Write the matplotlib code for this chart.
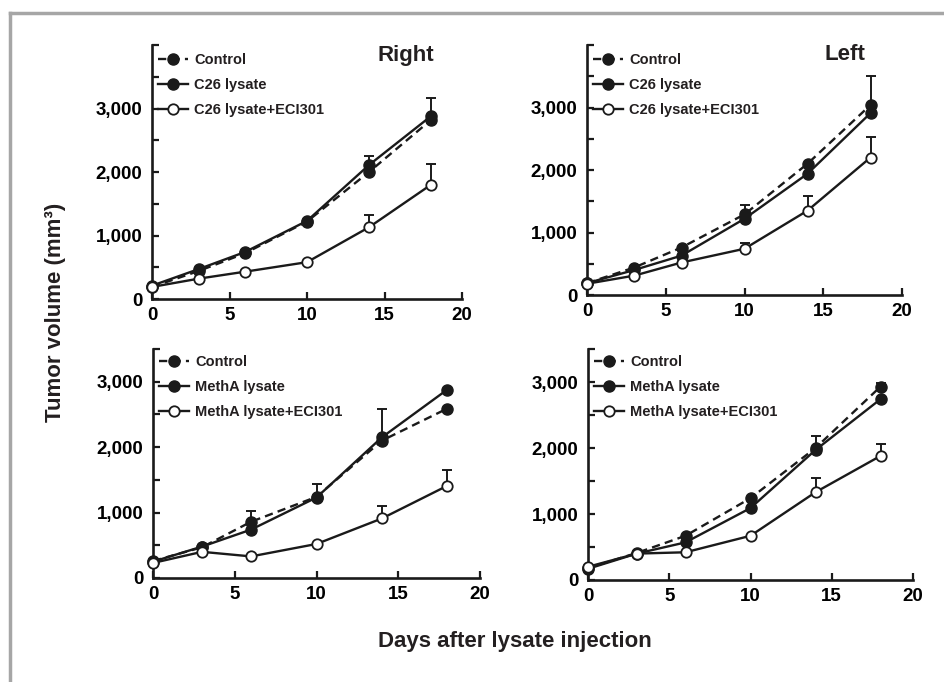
import matplotlib
matplotlib.use("Agg")
import matplotlib.pyplot as plt
from matplotlib.lines import Line2D
from matplotlib.ticker import FixedLocator, FuncFormatter

plt.rcParams['font.family'] = ['Liberation Sans', 'DejaVu Sans']
plt.rcParams['font.weight'] = 'bold'
plt.rcParams['text.color'] = '#231f20'

days = [0, 3, 6, 10, 14, 18]

# top row: C26 lysate, right and left tumour
r_ctrl = [190, 440, 720, 1220, 2000, 2820]
r_c26 = [210, 470, 740, 1230, 2110, 2880]
r_c26_eci = [190, 320, 430, 580, 1130, 1800]
r_ctrl_err = [0, 0, 0, 0, 0, 0]
r_c26_err = [0, 0, 0, 0, 140, 280]
r_c26_eci_err = [0, 0, 0, 0, 190, 320]

l_ctrl = [190, 440, 760, 1290, 2100, 3040]
l_c26 = [190, 400, 630, 1220, 1940, 2910]
l_c26_eci = [180, 310, 520, 740, 1350, 2200]
l_ctrl_err = [0, 0, 0, 150, 0, 470]
l_c26_err = [0, 0, 0, 0, 0, 0]
l_c26_eci_err = [0, 0, 0, 95, 235, 325]

# bottom row: MethA lysate
mr_ctrl = [260, 470, 860, 1240, 2100, 2590]
mr_meth = [250, 480, 740, 1230, 2150, 2880]
mr_meth_eci = [230, 400, 330, 520, 910, 1410]
mr_ctrl_err = [0, 0, 160, 0, 0, 0]
mr_meth_err = [0, 0, 0, 200, 430, 0]
mr_meth_eci_err = [0, 0, 0, 0, 190, 235]

ml_ctrl = [180, 410, 670, 1240, 2000, 2930]
ml_meth = [170, 400, 570, 1090, 1970, 2740]
ml_meth_eci = [200, 400, 420, 670, 1330, 1880]
ml_ctrl_err = [0, 0, 0, 0, 180, 60]
ml_meth_err = [0, 0, 0, 0, 0, 0]
ml_meth_eci_err = [0, 0, 0, 0, 220, 185]

fig = plt.figure(figsize=(9.44, 6.82), dpi=100)
W, H = 944, 682


def px_axes(x0, x1, y0, y1):
    return fig.add_axes([x0 / W, 1 - y0 / H, (x1 - x0) / W, (y0 - y1) / H])


def panel(ax, ctrl, lys, eci, errs, names, ytop, title=None, leg_top=0.97):
    lw = 1.7
    ax.plot(days, ctrl, color='#1a1a1a', lw=lw, ls=(0, (3.5, 2.2)), marker='o',
            ms=8, mfc='#1a1a1a', mec='#1a1a1a', clip_on=False, zorder=3, label=names[0])
    ax.plot(days, lys, color='#1a1a1a', lw=lw, ls='-', marker='o',
            ms=8, mfc='#1a1a1a', mec='#1a1a1a', clip_on=False, zorder=4, label=names[1])
    ax.plot(days, eci, color='#1a1a1a', lw=lw, ls='-', marker='o',
            ms=7.5, mfc='white', mec='#1a1a1a', mew=1.3, clip_on=False, zorder=5, label=names[2])
    for vals, err in zip((ctrl, lys, eci), errs):
        xs = [d for d, e in zip(days, err) if e > 0]
        ys = [v for v, e in zip(vals, err) if e > 0]
        es = [e for e in err if e > 0]
        if xs:
            ax.errorbar(xs, ys, yerr=[[0] * len(es), es], fmt='none', ecolor='#1a1a1a',
                        elinewidth=1.4, capsize=3.5, capthick=1.4, zorder=2, clip_on=False)

    ax.set_xlim(0, 20)
    ax.set_ylim(0, ytop)
    for s in ('top', 'right'):
        ax.spines[s].set_visible(False)
    for s in ('left', 'bottom'):
        ax.spines[s].set_linewidth(1.9)
        ax.spines[s].set_color('#1a1a1a')
    ax.set_xticks([0, 5, 10, 15, 20])
    ax.yaxis.set_major_locator(FixedLocator([0, 1000, 2000, 3000]))
    minors = [500, 1500, 2500, 3500, 4000]
    ax.yaxis.set_minor_locator(FixedLocator([m for m in minors if m <= ytop]))
    ax.yaxis.set_major_formatter(FuncFormatter(lambda v, p: f"{int(v):,}"))
    ax.tick_params(axis='both', which='both', direction='in', length=5, width=1.6,
                   color='#1a1a1a', labelsize=13.5)
    ax.tick_params(axis='y', pad=7)
    ax.tick_params(axis='x', pad=6)
    for lab in ax.get_xticklabels() + ax.get_yticklabels():
        lab.set_fontweight('bold')

    leg = ax.legend(loc='upper left', bbox_to_anchor=(0.0, leg_top), frameon=False,
                    fontsize=10.5, handlelength=2.1, handletextpad=0.4,
                    labelspacing=0.75, borderaxespad=0.2, borderpad=0.2)
    for t in leg.get_texts():
        t.set_fontweight('bold')
    if title:
        ax.text(0.82, 0.96, title, transform=ax.transAxes, ha='center', va='center',
                fontsize=16, fontweight='bold')


ax1 = px_axes(152, 462, 299, 45)
ax2 = px_axes(587, 902, 295, 45)
ax3 = px_axes(153, 480, 578, 349)
ax4 = px_axes(588, 913, 580, 349)

c26_names = ['Control', 'C26 lysate', 'C26 lysate+ECI301']
meth_names = ['Control', 'MethA lysate', 'MethA lysate+ECI301']

panel(ax1, r_ctrl, r_c26, r_c26_eci, (r_ctrl_err, r_c26_err, r_c26_eci_err),
      c26_names, 4000, 'Right', leg_top=0.99)
panel(ax2, l_ctrl, l_c26, l_c26_eci, (l_ctrl_err, l_c26_err, l_c26_eci_err),
      c26_names, 4000, 'Left', leg_top=0.99)
panel(ax3, mr_ctrl, mr_meth, mr_meth_eci, (mr_ctrl_err, mr_meth_err, mr_meth_eci_err),
      meth_names, 3500, leg_top=1.0)
panel(ax4, ml_ctrl, ml_meth, ml_meth_eci, (ml_ctrl_err, ml_meth_err, ml_meth_eci_err),
      meth_names, 3500, leg_top=1.0)

fig.text(55 / W, 1 - 312 / H, 'Tumor volume (mm³)', rotation=90, ha='center', va='center',
         fontsize=16, fontweight='bold')
fig.text(515 / W, 1 - 642 / H, 'Days after lysate injection', ha='center', va='center',
         fontsize=16, fontweight='bold')

# grey frame (left and top edges)
fig.add_artist(Line2D([10 / W, 10 / W], [0, 1 - 13 / H], color='#a6a6a6', lw=2.5,
                      transform=fig.transFigure))
fig.add_artist(Line2D([10 / W, 1], [1 - 13 / H, 1 - 13 / H], color='#a6a6a6', lw=2.5,
                      transform=fig.transFigure))

fig.savefig('out.png', dpi=100)
